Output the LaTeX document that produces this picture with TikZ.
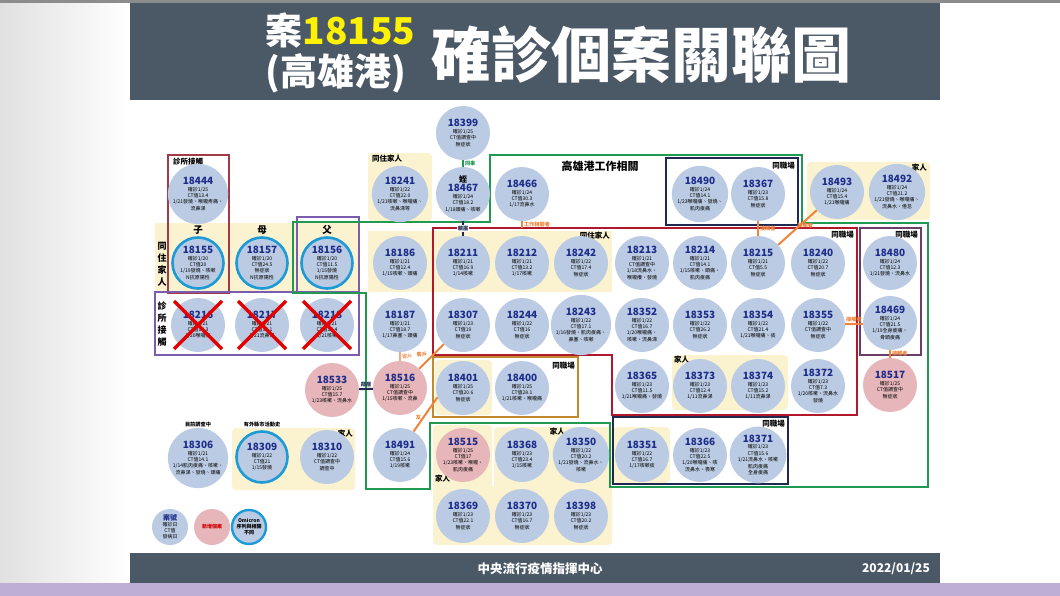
\documentclass[tikz,border=0pt]{standalone}
\usepackage{fontspec}
\setmainfont{Noto Sans CJK TC}
\usetikzlibrary{calc}
\definecolor{caseblue}{HTML}{BACBE3}
\definecolor{casepink}{HTML}{E6B6BA}
\definecolor{famyel}{HTML}{FBF3D0}
\definecolor{numblue}{HTML}{1E2C8A}
\definecolor{slate}{HTML}{4B5866}
\definecolor{grnl}{HTML}{1F9A50}
\definecolor{redl}{HTML}{B2182B}
\definecolor{purl}{HTML}{7B5CAE}
\definecolor{plum}{HTML}{6A3E66}
\definecolor{navyl}{HTML}{1E2850}
\definecolor{goldl}{HTML}{C28A2C}
\definecolor{orgl}{HTML}{F0843A}
\definecolor{brownl}{HTML}{A23A48}
\definecolor{ringblue}{HTML}{1E9AD6}
\definecolor{lilac}{HTML}{BDAED6}
\newcommand\cnum[1]{{\fontsize{10}{11}\selectfont\bfseries\color{numblue}#1}}
\begin{document}
\begin{tikzpicture}[x=1pt, y=-1pt,
  case/.style={circle, fill=caseblue, minimum size=54pt, inner sep=0pt, align=center,
    font=\fontsize{5}{6.4}\selectfont},
  newc/.style={case, fill=casepink},
  omi/.style={case, draw=ringblue, line width=2.6pt, minimum size=51pt},
  legc/.style={case, minimum size=36pt, font=\fontsize{5}{6}\selectfont},
  lab/.style={font=\bfseries\fontsize{5.2}{6}\selectfont, inner sep=1pt},
  grp/.style={font=\bfseries\fontsize{7.5}{8}\selectfont, inner sep=1pt},
  fam/.style={fill=famyel, rounded corners=4pt},
  box/.style={line width=1.6pt},
  conn/.style={line width=2pt, orgl},
  xline/.style={red!90!black, line width=3.5pt}]
  % page, slide and bars
  \shade[left color=black!12, right color=white] (0,0) rectangle (130,596);
  \fill[white] (130,0) rectangle (1060,596);
  \fill[black!45] (0,0) rectangle (1060,3);
  \fill[slate] (130,3) rectangle (940,100);
  \fill[slate] (130,553) rectangle (940,583);
  \fill[lilac] (0,583) rectangle (1060,596);
  \node[anchor=west, text=white, font=\bfseries\fontsize{37}{38}\selectfont] (tcase) at (262,31)
    {案\textcolor{yellow}{18155}};
  \node[anchor=west, text=white, font=\bfseries\fontsize{37}{38}\selectfont] (tport) at (262,73) {(高雄港)};
  \node[anchor=west, text=white, font=\bfseries\fontsize{60}{62}\selectfont] (ttitle) at (428,55) {確診個案關聯圖};
  \node[text=white, font=\bfseries\fontsize{12.5}{13}\selectfont] (cecc) at (540,569) {中央流行疫情指揮中心};
  \node[text=white, font=\bfseries\fontsize{12}{13}\selectfont] (date) at (896,569) {2022/01/25};
  % family backgrounds
  \fill[famyel] (155,223) rectangle (359,292);
  \fill[fam] (368,153) rectangle (432,222);
  \fill[famyel] (368,231) rectangle (612,292);
  \fill[fam] (807,162) rectangle (930,220);
  \fill[fam] (672,355) rectangle (788,410);
  \fill[fam] (435,360) rectangle (492,415);
  \fill[fam] (613,427) rectangle (670,483);
  \fill[fam] (232,428) rectangle (355,490);
  \fill[fam] (433,425) rectangle (492,500);
  \fill[fam] (494,427) rectangle (612,500);
  \fill[fam] (433,486) rectangle (612,545);
  % group frames
  \draw[brownl, box] (168,155) rectangle (229,293);
  \draw[purl, box] (297,217) rectangle (359,292);
  \draw[purl, box] (155,292) rectangle (359,355);
  \draw[grnl, box] (366,489) -- (366,293) -- (293,293) -- (293,222) -- (490,222) -- (490,155)
    -- (802,155) -- (802,223) -- (928,223) -- (928,487) -- (610,487) -- (610,423) -- (430,423)
    -- (430,489) -- cycle;
  \draw[navyl, box] (666,158) rectangle (798,225);
  \draw[redl, box] (433,228) -- (857,228) -- (857,415) -- (612,415) -- (612,355) -- (433,355) -- cycle;
  \draw[plum, box] (860,228) rectangle (921,355);
  \draw[goldl, box] (433,357) rectangle (578,417);
  \draw[navyl, box] (613,417) rectangle (788,484);
  % group labels
  \node[grp, anchor=west] (gclinic) at (172,162) {診所接觸};
  \node[grp, anchor=west] (gfam1) at (371,159) {同住家人};
  \node[grp, anchor=east] (gfam2) at (611,236) {同住家人};
  \node[font=\bfseries\fontsize{11}{12}\selectfont] (gport) at (600,166) {高雄港工作相關};
  \node[grp, anchor=east] (gwork1) at (796,166) {同職場};
  \node[grp, anchor=east] (gfam3) at (928,168) {家人};
  \node[grp, anchor=east] (gwork2) at (855,235) {同職場};
  \node[grp, anchor=east] (gwork3) at (919,235) {同職場};
  \node[grp, anchor=east] (gwork4) at (576,366) {同職場};
  \node[grp, anchor=west] (gfam4) at (673,360) {家人};
  \node[grp, anchor=east] (gwork5) at (786,424) {同職場};
  \node[grp, anchor=east] (gfam5) at (566,432) {家人};
  \node[grp, anchor=west] (gfam6) at (434,479) {家人};
  \node[grp, anchor=east] (gfam7) at (354,434) {家人};
  \node[lab] (gsurvey) at (198,425) {目前調查中};
  \node[lab] (gtravel) at (262,425) {有外縣市活動史};
  \node[font=\bfseries\fontsize{9.5}{10}\selectfont] (rson) at (198,230) {子};
  \node[font=\bfseries\fontsize{9.5}{10}\selectfont] (rmom) at (262,230) {母};
  \node[font=\bfseries\fontsize{9.5}{10}\selectfont] (rdad) at (327,230) {父};
  \node[align=center, font=\bfseries\fontsize{9}{12}\selectfont] (vfam) at (162,264) {同\\住\\家\\人};
  \node[align=center, font=\bfseries\fontsize{9}{12}\selectfont] (vclinic) at (162,324) {診\\所\\接\\觸};
  % cases
  \node[case] (n18399) at (463,133) {\cnum{18399}\\確診1/25\\CT值調查中\\無症狀};
  \node[case] (n18444) at (198,194) {\cnum{18444}\\確診1/25\\CT值13.4\\1/21發燒、喉嚨疼痛、\\流鼻涕};
  \node[case] (n18241) at (400,194) {\cnum{18241}\\確診1/22\\CT值22.0\\1/21咳嗽、喉嚨痛、\\流鼻涕等};
  \node[case] (n18467) at (463,194) {{\bfseries\fontsize{8}{9}\selectfont 姪}\\\cnum{18467}\\確診1/24\\CT值18.2\\1/18頭痛、咳嗽};
  \node[case] (n18466) at (522,194) {\cnum{18466}\\確診1/24\\CT值30.3\\1/17流鼻水};
  \node[case] (n18490) at (700,194) {\cnum{18490}\\確診1/24\\CT值14.1\\1/23喉嚨痛、發燒、\\肌肉痠痛};
  \node[case] (n18367) at (758,194) {\cnum{18367}\\確診1/23\\CT值15.8\\無症狀};
  \node[case] (n18493) at (837,192) {\cnum{18493}\\確診1/24\\CT值15.4\\1/21喉嚨痛};
  \node[case] (n18492) at (897,192) {\cnum{18492}\\確診1/24\\CT值21.2\\1/21發燒、喉嚨痛、\\流鼻水、倦怠};
  \node[omi] (n18155) at (198,263) {\cnum{18155}\\確診1/20\\CT值20\\1/19發燒、咳嗽\\N抗原陽性};
  \node[omi] (n18157) at (262,263) {\cnum{18157}\\確診1/20\\CT值24.5\\無症狀\\N抗原陽性};
  \node[omi] (n18156) at (327,263) {\cnum{18156}\\確診1/20\\CT值11.5\\1/15發燒\\N抗原陽性};
  \node[case] (n18186) at (400,263) {\cnum{18186}\\確診1/21\\CT值12.4\\1/15咳嗽、頭痛};
  \node[case] (n18211) at (463,263) {\cnum{18211}\\確診1/21\\CT值16.9\\1/14咳嗽};
  \node[case] (n18212) at (522,263) {\cnum{18212}\\確診1/21\\CT值13.2\\1/17咳嗽};
  \node[case] (n18242) at (581,263) {\cnum{18242}\\確診1/22\\CT值17.4\\無症狀};
  \node[case] (n18213) at (642,263) {\cnum{18213}\\確診1/21\\CT值調查中\\1/18流鼻水、\\喉嚨癢、發燒};
  \node[case] (n18214) at (700,263) {\cnum{18214}\\確診1/21\\CT值14.1\\1/15咳嗽、頭痛、\\肌肉痠痛};
  \node[case] (n18215) at (758,263) {\cnum{18215}\\確診1/21\\CT值5.5\\無症狀};
  \node[case] (n18240) at (818,263) {\cnum{18240}\\確診1/22\\CT值20.7\\無症狀};
  \node[case] (n18480) at (890,263) {\cnum{18480}\\確診1/24\\CT值12.3\\1/21發燒、流鼻水};
  \node[case] (x18216) at (198,325) {\cnum{18216}\\確診1/21\\CT值14.3\\1/20喉嚨痛};
  \node[case] (x18217) at (262,325) {\cnum{18217}\\確診1/21\\CT值18.1\\1/21流鼻涕};
  \node[case] (x18218) at (327,325) {\cnum{18218}\\確診1/21\\CT值16.4\\1/21咳嗽};
  \node[case] (n18187) at (400,325) {\cnum{18187}\\確診1/21\\CT值18.7\\1/17鼻塞、頭痛};
  \node[case] (n18307) at (463,325) {\cnum{18307}\\確診1/23\\CT值19\\無症狀};
  \node[case] (n18244) at (522,325) {\cnum{18244}\\確診1/22\\CT值16\\無症狀};
  \node[case] (n18243) at (581,325) {\cnum{18243}\\確診1/22\\CT值17.1\\1/16發燒、肌肉痠痛、\\鼻塞、咳嗽};
  \node[case] (n18352) at (642,325) {\cnum{18352}\\確診1/22\\CT值16.7\\1/20喉嚨痛、\\咳嗽、流鼻涕};
  \node[case] (n18353) at (700,325) {\cnum{18353}\\確診1/22\\CT值26.2\\無症狀};
  \node[case] (n18354) at (758,325) {\cnum{18354}\\確診1/22\\CT值21.4\\1/21喉嚨痛、痰};
  \node[case] (n18355) at (818,325) {\cnum{18355}\\確診1/22\\CT值調查中\\無症狀};
  \node[case] (n18469) at (890,323) {\cnum{18469}\\確診1/24\\CT值21.5\\1/19全身痠痛、\\骨頭痠痛};
  \node[newc] (n18533) at (332,390) {\cnum{18533}\\確診1/25\\CT值15.7\\1/23咳嗽、流鼻水};
  \node[newc] (n18516) at (400,388) {\cnum{18516}\\確診1/25\\CT值調查中\\1/15咳嗽、流鼻};
  \node[case] (n18401) at (463,388) {\cnum{18401}\\確診1/25\\CT值20.6\\無症狀};
  \node[case] (n18400) at (522,388) {\cnum{18400}\\確診1/25\\CT值28.1\\1/21咳嗽、喉嚨痛};
  \node[case] (n18365) at (642,386) {\cnum{18365}\\確診1/23\\CT值11.5\\1/21喉嚨痛、發燒};
  \node[case] (n18373) at (700,386) {\cnum{18373}\\確診1/23\\CT值12.4\\1/11流鼻涕};
  \node[case] (n18374) at (758,386) {\cnum{18374}\\確診1/23\\CT值15.2\\1/11流鼻涕};
  \node[case] (n18372) at (818,386) {\cnum{18372}\\確診1/23\\CT值7.3\\1/20咳嗽、流鼻水\\發燒};
  \node[newc] (n18517) at (890,385) {\cnum{18517}\\確診1/25\\CT值調查中\\無症狀};
  \node[case] (n18306) at (198,458) {\cnum{18306}\\確診1/21\\CT值14.1\\1/14肌肉痠痛、咳嗽、\\流鼻涕、發燒、頭痛};
  \node[omi] (n18309) at (262,457) {\cnum{18309}\\確診1/22\\CT值21\\1/15發燒};
  \node[case] (n18310) at (327,457) {\cnum{18310}\\確診1/22\\CT值調查中\\調查中};
  \node[case] (n18491) at (400,455) {\cnum{18491}\\確診1/24\\CT值15.6\\1/19咳嗽};
  \node[newc] (n18515) at (463,455) {\cnum{18515}\\確診1/25\\CT值17\\1/23咳嗽、喉嚨、\\肌肉痠痛};
  \node[case] (n18368) at (522,455) {\cnum{18368}\\確診1/23\\CT值23.4\\1/15咳嗽};
  \node[case] (n18350) at (581,455) {\cnum{18350}\\確診1/22\\CT值20.2\\1/21發燒、流鼻水、\\咳嗽};
  \node[case] (n18351) at (642,455) {\cnum{18351}\\確診1/22\\CT值16.7\\1/17咳嗽痰};
  \node[case] (n18366) at (700,455) {\cnum{18366}\\確診1/23\\CT值22.5\\1/20喉嚨痛、咳\\流鼻水、畏寒};
  \node[case] (n18371) at (758,455) {\cnum{18371}\\確診1/23\\CT值15.6\\1/21流鼻水、咳嗽\\肌肉痠痛\\全身痠痛};
  \node[case] (n18369) at (463,516) {\cnum{18369}\\確診1/23\\CT值22.1\\無症狀};
  \node[case] (n18370) at (522,516) {\cnum{18370}\\確診1/23\\CT值16.7\\無症狀};
  \node[case] (n18398) at (581,516) {\cnum{18398}\\確診1/23\\CT值20.2\\無症狀};
  % crossed-out clinic contacts
  \foreach \c in {x18216, x18217, x18218}
    \draw[xline] ($(\c)+(-24,-24)$) -- ($(\c)+(24,24)$) ($(\c)+(-24,24)$) -- ($(\c)+(24,-24)$);
  % legend
  \node[legc] (leg1) at (170,527) {{\bfseries\fontsize{7}{8}\selectfont\color{numblue}案號}\\確診日\\CT值\\發病日};
  \node[legc, fill=casepink, text=red!80!black] (leg2) at (212,527) {\bfseries 新增個案};
  \node[legc, draw=ringblue, line width=2.4pt, minimum size=34pt] (leg3) at (249,527)
    {\bfseries Omicron\\\bfseries 序列與相關\\\bfseries 不同};
  % links
  \draw[grnl, line width=2pt] (n18399) -- node[lab, right] {同事} (n18467);
  \draw[navyl, line width=2pt] (n18467) -- node[lab, fill=white] {親屬} (n18211);
  \coordinate (w18466) at (522,228);
  \draw[conn] (n18466) -- node[lab, right] {工作相關者} (w18466);
  \draw[conn] (n18367) -- node[lab, right] {接觸者} (n18215);
  \draw[conn] (n18493) -- node[lab, below, pos=.3] {接觸者} (n18215);
  \draw[conn] (n18355) -- node[lab, above] {接觸者} (n18469);
  \draw[conn] (n18469) -- node[lab, right] {接觸者} (n18517);
  \draw[conn, orgl!70] (n18187) -- node[lab, right] {客戶} (n18516);
  \draw[conn] (n18516) -- node[lab, above left, pos=.4] {客戶} (n18307);
  \draw[conn] (n18401.200) -- node[lab, left, pos=.6] {友} (n18491.60);
  \draw[navyl, line width=2pt] (n18533) -- node[lab, above] {鄰居} (n18516);
\end{tikzpicture}
\end{document}
